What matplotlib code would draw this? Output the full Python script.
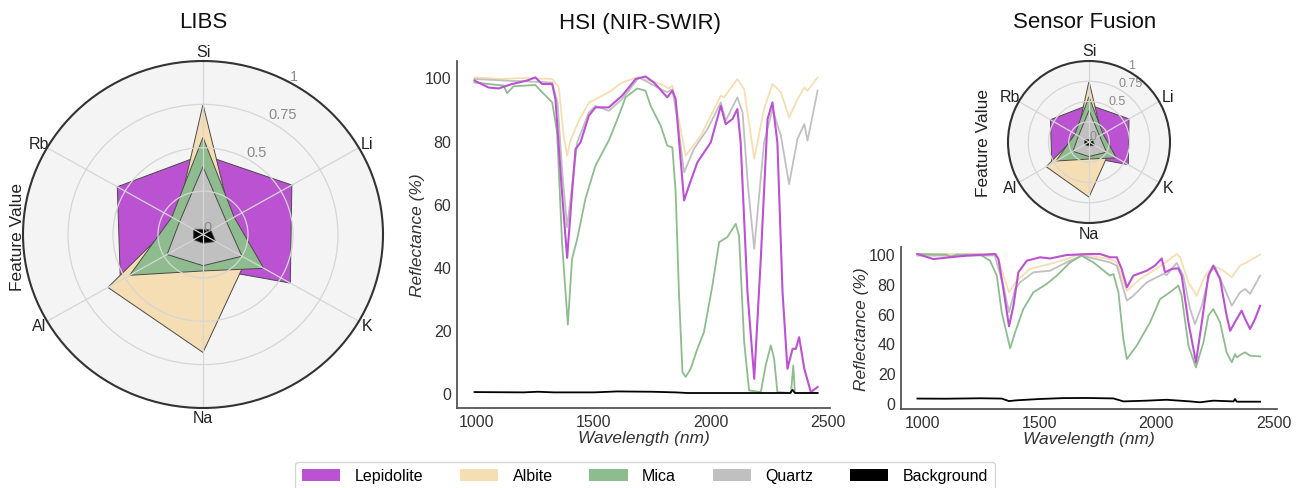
import numpy as np
import matplotlib
matplotlib.use('Agg')
import matplotlib.pyplot as plt
from matplotlib.patches import Patch

plt.rcParams['font.family'] = ['Liberation Sans', 'DejaVu Sans']

# radar data (elements clockwise from top)
elements = ['Si', 'Li', 'K', 'Na', 'Al', 'Rb']
libs_lepidolite = [0.46, 0.57, 0.56, 0.19, 0.53, 0.55]
libs_albite = [0.75, 0.18, 0.28, 0.68, 0.61, 0.17]
libs_mica = [0.56, 0.20, 0.39, 0.21, 0.47, 0.20]
libs_quartz = [0.39, 0.15, 0.25, 0.18, 0.23, 0.15]
libs_background = [0.03, 0.05, 0.08, 0.05, 0.06, 0.06]

# HSI spectra (wavelength nm, reflectance %)
hsi_wl_lep = [990, 1050, 1093, 1150, 1214, 1250, 1279, 1322, 1336, 1364, 1386, 1407, 1422, 1443,
              1479, 1507, 1564, 1621, 1679, 1721, 1757, 1814, 1836, 1850, 1871, 1886, 1907, 1943,
              2000, 2043, 2064, 2093, 2114, 2128, 2157, 2186, 2214, 2243, 2264, 2285, 2307, 2328,
              2350, 2364, 2378, 2400, 2428, 2457]
hsi_lep = [99.0, 96.8, 96.5, 97.9, 99.0, 100, 97.9, 97.9, 93.1, 63.6, 42.8, 63.6, 77.3, 79.4,
           87.9, 90.5, 90.5, 94.2, 99.5, 100.3, 98.4, 93.7, 95.8, 93.1, 74.2, 61.0, 65.7, 73.1,
           79.4, 91.0, 85.2, 86.8, 90.0, 79.4, 32.0, 4.5, 42.5, 86.8, 92.1, 79.4, 32.0, 7.7,
           14.0, 14.0, 17.7, 7.7, 0.3, 1.9]
hsi_wl_alb = [990, 1100, 1200, 1322, 1350, 1370, 1386, 1400, 1436, 1479, 1564, 1621, 1686, 1786,
              1820, 1836, 1860, 1893, 1957, 2043, 2057, 2114, 2143, 2186, 2228, 2264, 2300, 2335,
              2371, 2400, 2414, 2457]
hsi_alb = [100.0, 99.5, 99.8, 99.5, 97.0, 82.0, 75.2, 80.0, 86.3, 92.0, 95.3, 98.4, 100, 97.9,
           96.5, 97.4, 88.0, 75.2, 81.5, 94.2, 93.7, 99.5, 96.3, 74.2, 90.0, 97.9, 95.3, 87.3,
           93.1, 96.8, 95.8, 100]
hsi_wl_qtz = [990, 1122, 1322, 1345, 1365, 1386, 1407, 1429, 1479, 1507, 1564, 1621, 1693, 1786,
              1814, 1836, 1857, 1886, 1928, 1986, 2043, 2064, 2114, 2136, 2160, 2186, 2210, 2228,
              2264, 2300, 2335, 2371, 2400, 2414, 2457]
hsi_qtz = [99.5, 99.0, 98.4, 92.0, 70.0, 52.5, 65.7, 79.4, 88.9, 91.0, 89.4, 93.1, 100, 96.3,
           95.3, 96.3, 86.8, 69.9, 77.3, 83.6, 92.1, 86.3, 93.7, 88.9, 65.0, 45.7, 65.0, 79.4,
           90.0, 81.5, 66.2, 80.5, 85.2, 80.0, 95.8]
hsi_wl_mic = [990, 1050, 1115, 1129, 1157, 1250, 1279, 1322, 1343, 1364, 1389, 1407, 1429, 1464,
              1507, 1564, 1607, 1636, 1686, 1721, 1743, 1786, 1814, 1836, 1850, 1864, 1879, 1893,
              1914, 1943, 1971, 2007, 2036, 2071, 2107, 2121, 2143, 2164, 2214, 2235, 2257, 2271,
              2285, 2343, 2353, 2360, 2457]
hsi_mic = [98.4, 97.9, 97.4, 95.0, 97.2, 97.6, 95.3, 92.1, 82.6, 47.8, 21.7, 42.5, 48.8, 61.5,
           72.0, 80.0, 87.9, 93.7, 96.5, 95.8, 91.0, 84.7, 78.4, 77.8, 63.6, 32.0, 6.6, 5.1,
           7.7, 14.0, 19.3, 34.0, 47.8, 49.4, 53.6, 49.9, 16.1, 0.8, 0.3, 8.7, 15.1, 10.9,
           0.3, 0.0, 8.7, 0.0, 0.0]
hsi_wl_bkg = [990, 1200, 1260, 1330, 1500, 1600, 1750, 1850, 1900, 2100, 2340, 2350, 2360, 2457]
hsi_bkg = [0.3, 0.2, 0.4, 0.2, 0.2, 0.5, 0.4, 0.2, 0.0, 0.0, 0.0, 1.0, 0.0, 0.0]

# sensor fusion spectra
fus_wl_lep = [980, 1048, 1119, 1191, 1312, 1326, 1347, 1371, 1390, 1411, 1447, 1504, 1546, 1617,
              1717, 1760, 1802, 1831, 1852, 1874, 1902, 1959, 1994, 2023, 2037, 2066, 2094, 2108,
              2137, 2169, 2194, 2222, 2243, 2272, 2300, 2315, 2343, 2364, 2379, 2400, 2421, 2443]
fus_lep = [100, 96.6, 97.8, 98.9, 100, 96.6, 76.5, 51.5, 65.3, 87.7, 95.5, 97.8, 97.0, 99.3,
           100, 100, 97.8, 97.8, 90.0, 77.6, 85.5, 88.8, 92.2, 97.0, 87.7, 90.0, 90.4, 85.5,
           54.1, 27.3, 54.1, 85.5, 92.2, 83.2, 58.6, 48.5, 56.4, 62.0, 56.4, 49.7, 56.4, 65.3]
fus_wl_alb = [980, 1319, 1347, 1371, 1404, 1461, 1546, 1617, 1674, 1802, 1831, 1874, 1930, 1987,
              2030, 2087, 2101, 2137, 2172, 2208, 2243, 2286, 2322, 2357, 2386, 2443]
fus_alb = [100, 100, 85.5, 74.3, 82.1, 90.0, 93.3, 96.6, 100, 96.6, 94.4, 75.4, 83.2, 88.8,
           93.3, 100, 97.8, 81.0, 72.0, 85.5, 92.2, 88.8, 84.4, 92.2, 94.4, 99.6]
fus_wl_qtz = [980, 1310, 1347, 1371, 1397, 1418, 1475, 1546, 1617, 1681, 1802, 1831, 1874, 1902,
              1959, 2030, 2044, 2087, 2115, 2144, 2165, 2194, 2229, 2251, 2286, 2322, 2357, 2379,
              2400, 2443]
fus_qtz = [98.9, 99.0, 78.7, 60.9, 76.5, 81.0, 87.7, 88.8, 94.4, 98.9, 94.4, 92.2, 68.7, 72.0,
           81.0, 86.6, 85.9, 94.0, 85.5, 63.1, 53.0, 65.3, 87.7, 91.1, 78.7, 65.3, 74.3, 76.5,
           73.2, 85.5]
fus_wl_mic = [980, 1105, 1119, 1148, 1248, 1290, 1319, 1340, 1376, 1397, 1432, 1475, 1532, 1575,
              1632, 1681, 1731, 1802, 1817, 1838, 1859, 1874, 1916, 1973, 2016, 2058, 2094, 2108,
              2137, 2169, 2201, 2222, 2243, 2272, 2300, 2322, 2336, 2343, 2364, 2379, 2400, 2443]
fus_mic = [100, 99.6, 97.8, 99.6, 99.6, 95.5, 85.5, 60.9, 36.7, 47.4, 63.1, 74.3, 79.9, 85.5,
           94.4, 98.9, 94.4, 85.5, 86.6, 74.3, 43.0, 29.5, 38.5, 54.1, 69.8, 74.3, 78.8, 72.0,
           38.5, 23.9, 40.7, 58.6, 63.1, 54.1, 34.0, 27.3, 32.9, 30.6, 32.9, 34.0, 31.8, 31.3]
fus_wl_bkg = [980, 1100, 1250, 1340, 1371, 1400, 1500, 1600, 1700, 1817, 1859, 1959, 2044, 2144,
              2186, 2243, 2329, 2336, 2343, 2443]
fus_bkg = [3.0, 2.9, 3.2, 3.0, 1.3, 1.8, 2.7, 3.3, 3.4, 3.1, 1.1, 1.6, 2.2, 1.1,
           0.5, 1.6, 1.1, 2.7, 0.9, 0.9]

names = ['Lepidolite', 'Albite', 'Mica', 'Quartz', 'Background']
colors = ['#BA52D2', '#F5DEB3', '#8FBC8F', '#C0C0C0', '#000000']

W, H = 1299, 489
fig = plt.figure(figsize=(W / 100, H / 100), dpi=100)


def px_rect(left, top, right, bottom):
    return [left / W, 1 - bottom / H, (right - left) / W, (bottom - top) / H]


def draw_radar(ax, lab_size, rlab_size, pad):
    angles = np.linspace(0, 2 * np.pi, len(elements), endpoint=False)
    ax.set_theta_offset(np.pi / 2)
    ax.set_theta_direction(-1)
    series = [libs_lepidolite, libs_albite, libs_mica, libs_quartz, libs_background]
    for vals, c in zip(series, colors):
        a = np.r_[angles, angles[0]]
        v = np.r_[vals, vals[0]]
        ax.fill(a, v, facecolor=c, edgecolor='#4a4a4a', linewidth=0.7)
    ax.set_xticks(angles)
    ax.set_xticklabels(elements, fontsize=lab_size, color='#222222')
    ax.set_ylim(0, 1)
    ax.set_yticks([0, 0.25, 0.5, 0.75, 1])
    ax.set_yticklabels(['0', '', '0.5', '0.75', '1'], color='#8a8a8a', fontsize=rlab_size)
    ax.set_rlabel_position(29)
    ax.set_facecolor('#f4f4f4')
    ax.grid(color='#d6d6d6', linewidth=0.9)
    ax.spines['polar'].set_color('#333333')
    ax.spines['polar'].set_linewidth(1.5)
    ax.tick_params(axis='x', pad=pad)
    ax.set_aspect('auto')


def draw_spectra(ax, data, xlim, ylim):
    for wl, val, c, lw in data:
        ax.plot(wl, val, color=c, linewidth=lw)
    ax.set_xlim(*xlim)
    ax.set_ylim(*ylim)
    ax.set_xticks([1000, 1500, 2000, 2500])
    ax.set_yticks([0, 20, 40, 60, 80, 100])
    for s in ['top', 'right']:
        ax.spines[s].set_visible(False)
    for s in ['left', 'bottom']:
        ax.spines[s].set_color('#555555')
        ax.spines[s].set_linewidth(1.3)
    ax.tick_params(length=0, labelsize=11.5, labelcolor='#333333', pad=4)
    ax.set_xlabel('Wavelength (nm)', fontsize=12.5, style='italic', color='#333333', labelpad=1)
    ax.set_ylabel('Reflectance (%)', fontsize=12.5, style='italic', color='#333333', labelpad=0)


# LIBS radar
ax1 = fig.add_axes(px_rect(23, 62, 383, 409), projection='polar')
draw_radar(ax1, 11.5, 10.5, -4)
fig.text(18 / W, 1 - 237 / H, 'Feature Value', rotation=90, ha='center', va='center',
         fontsize=12.5, color='#222222')

# HSI spectra
ax2 = fig.add_axes(px_rect(457, 62, 830, 409))
draw_spectra(ax2, [(hsi_wl_alb, hsi_alb, colors[1], 1.3),
                   (hsi_wl_qtz, hsi_qtz, colors[3], 1.3),
                   (hsi_wl_mic, hsi_mic, colors[2], 1.3),
                   (hsi_wl_lep, hsi_lep, colors[0], 1.5),
                   (hsi_wl_bkg, hsi_bkg, colors[4], 1.3)],
             (915, 2510), (-4.75, 105.2))

# Sensor fusion radar
ax3 = fig.add_axes(px_rect(1008, 62, 1170, 224), projection='polar')
draw_radar(ax3, 11.5, 9, -3)
fig.text(984 / W, 1 - 143 / H, 'Feature Value', rotation=90, ha='center', va='center',
         fontsize=12.5, color='#222222')

# Sensor fusion spectra
ax4 = fig.add_axes(px_rect(901, 248, 1277, 410))
draw_spectra(ax4, [(fus_wl_alb, fus_alb, colors[1], 1.3),
                   (fus_wl_qtz, fus_qtz, colors[3], 1.3),
                   (fus_wl_mic, fus_mic, colors[2], 1.3),
                   (fus_wl_lep, fus_lep, colors[0], 1.5),
                   (fus_wl_bkg, fus_bkg, colors[4], 1.3)],
             (910, 2515), (-4, 104.7))

# titles
fig.text(203 / W, 1 - 23 / H, 'LIBS', ha='center', va='center', fontsize=16, color='#111111')
fig.text(640 / W, 1 - 23 / H, 'HSI (NIR-SWIR)', ha='center', va='center', fontsize=16, color='#111111')
fig.text(1085 / W, 1 - 23 / H, 'Sensor Fusion', ha='center', va='center', fontsize=16, color='#111111')

handles = [Patch(facecolor=c, label=n) for n, c in zip(names, colors)]
fig.legend(handles=handles, loc='upper center', bbox_to_anchor=(645 / W, 1 - 463 / H),
           ncol=5, fontsize=11.5, frameon=True, edgecolor='#cccccc', borderaxespad=0,
           handlelength=2.4, handleheight=0.8, handletextpad=0.9, columnspacing=2.3)

fig.savefig('out.png', dpi=100)
